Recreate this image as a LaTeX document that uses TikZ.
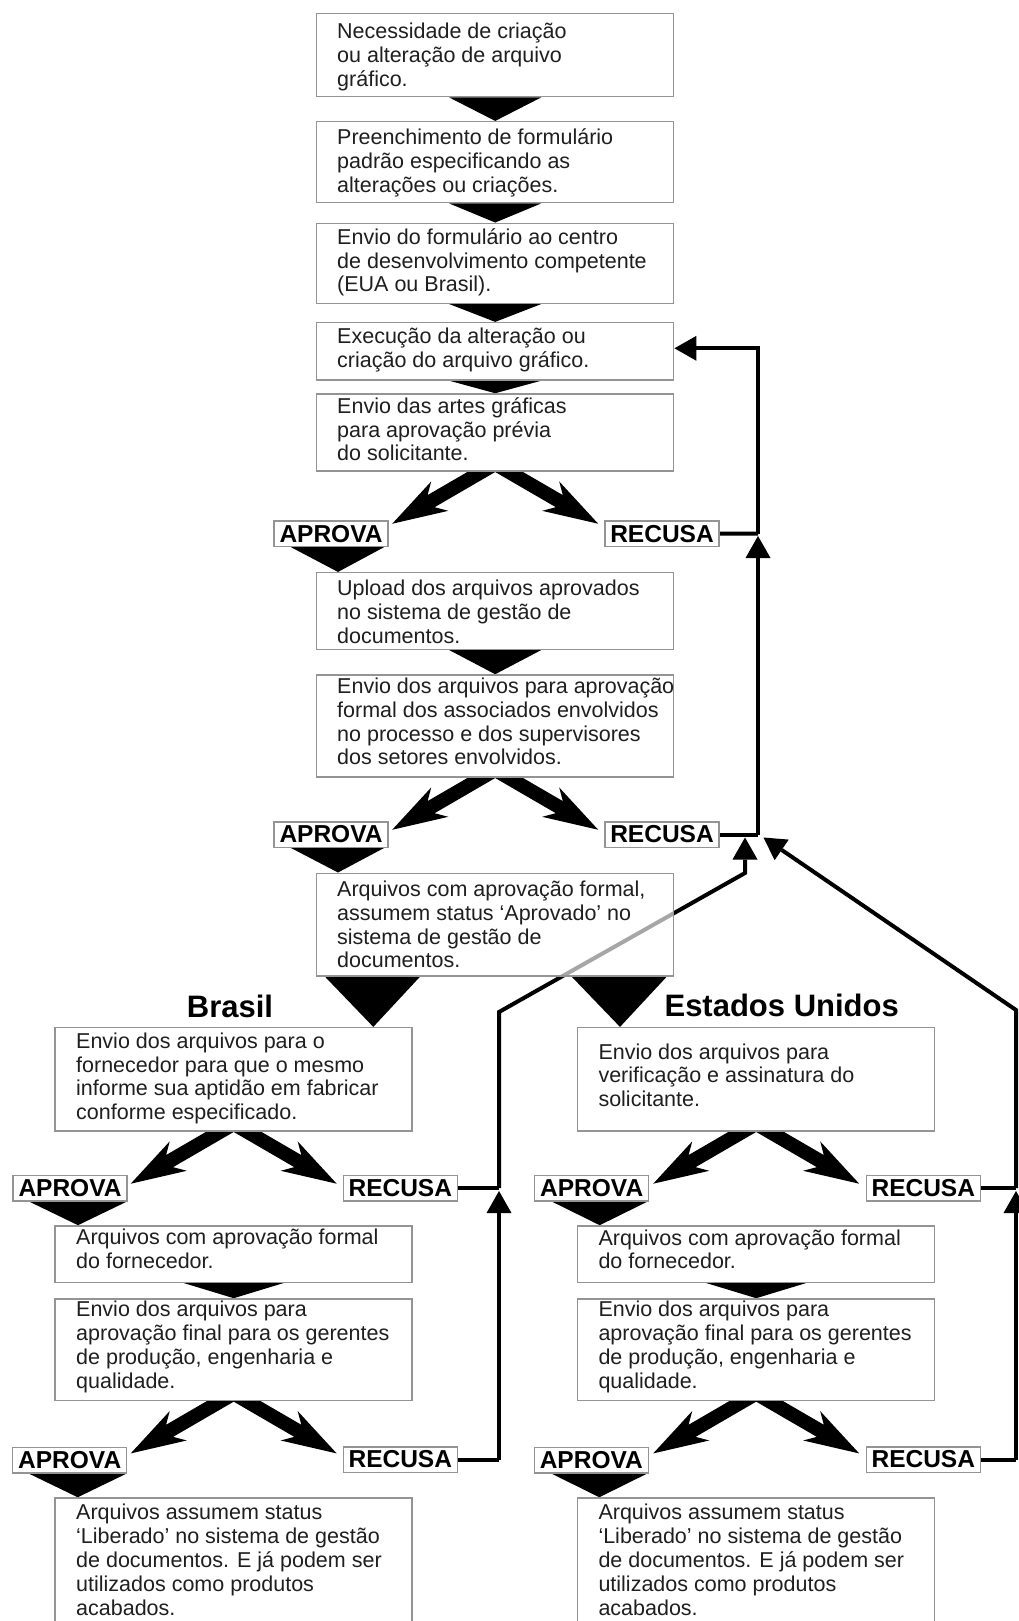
\documentclass[tikz,border=0pt]{standalone}
\usepackage{fontspec}
\setmainfont{Liberation Sans}
\usetikzlibrary{calc,arrows.meta}
\pgfdeclarelayer{back}
\pgfdeclarelayer{bg}
\pgfsetlayers{back,bg,main}

\newcommand{\blockarr}[2]{%
  \coordinate (ba) at ($(#1)!-25pt!(#2)$);
  \coordinate (bi) at ($(#2)!45pt!(#1)$);
  \coordinate (bh) at ($(#2)!55pt!(#1)$);
  \fill[black] ($(ba)!7pt!90:(#2)$) -- ($(bi)!7pt!-90:(#1)$) -- ($(bh)!17pt!-90:(#1)$) -- (#2)
    -- ($(bh)!17pt!90:(#1)$) -- ($(bi)!7pt!90:(#1)$) -- ($(ba)!7pt!-90:(#2)$) -- cycle;}
\newcommand{\splitpair}[1]{%
  \coordinate (sl) at ($(#1.south)+(-13.5,0)$);
  \coordinate (tl) at ($(#1.south)+(-103,52)$);
  \coordinate (sr) at ($(#1.south)+(13.5,0)$);
  \coordinate (tr) at ($(#1.south)+(103,52)$);
  \blockarr{sl}{tl}\blockarr{sr}{tr}}

\begin{document}
\begin{tikzpicture}[x=1pt,y=-1pt,
  box/.style={draw=black!42, line width=1.5pt, fill=white, minimum width=357pt, inner sep=0pt},
  txt/.style={anchor=west, align=left, inner sep=0pt, text=black!88,
    font=\fontsize{21.5}{23.8}\selectfont,
    execute at begin node={\rule{0pt}{17pt}}, execute at end node={\rule[-5pt]{0pt}{5pt}}},
  lbl/.style={draw=black!42, line width=1.5pt, fill=white, minimum width=114pt, minimum height=25.5pt,
    inner sep=0pt, font=\fontsize{24.5}{24.5}\bfseries},
  ttl/.style={inner sep=0pt, font=\fontsize{31}{31}\bfseries},
  conn/.style={line width=4pt, black},
  arr/.style={-{Triangle[length=22pt 0 0, width=25pt 0 0, line width=0pt 0 0]}}
]
\useasboundingbox (0,0) rectangle (1018,1621);

% main column boxes
\node[box, minimum height=83.4pt] (b1) at (495.2,55) {};
\node[box, minimum height=81pt] (b2) at (495.2,162.2) {};
\node[box, minimum height=80pt] (b3) at (495.2,263.3) {};
\node[box, minimum height=57.3pt] (b4) at (495.2,351.3) {};
\node[box, minimum height=77pt] (b5) at (495.2,432.5) {};
\node[box, minimum height=76.6pt] (b6) at (495.2,611) {};
\node[box, minimum height=102pt] (b7) at (495.2,726) {};
\node[box, minimum height=102.7pt, fill opacity=0.65] (b8) at (495.2,924.6) {};
% Brasil column
\node[box, minimum height=103.3pt] (br1) at (233.7,1079.3) {};
\node[box, minimum height=56.3pt] (br2) at (233.7,1254.1) {};
\node[box, minimum height=101.7pt] (br3) at (233.7,1349.8) {};
\node[box, minimum height=128pt] (br4) at (233.7,1562) {};
% EUA column
\node[box, minimum height=103.3pt] (us1) at (756.2,1079.3) {};
\node[box, minimum height=56.3pt] (us2) at (756.2,1254.1) {};
\node[box, minimum height=101.7pt] (us3) at (756.2,1349.8) {};
\node[box, minimum height=128pt] (us4) at (756.2,1562) {};

% texts
\node[txt] (t1) at (337,57.4) {Necessidade de criação\\ou alteração de arquivo\\gráfico.};
\node[txt] (t2) at (337,163) {Preenchimento de formulário\\padrão especificando as\\alterações ou criações.};
\node[txt] (t3) at (337,262.7) {Envio do formulário ao centro\\de desenvolvimento competente\\(EUA ou Brasil).};
\node[txt] (t4) at (337,350) {Execução da alteração ou\\criação do arquivo gráfico.};
\node[txt] (t5) at (337,431.7) {Envio das artes gráficas\\para aprovação prévia\\do solicitante.};
\node[txt] (t6) at (337,614.2) {Upload dos arquivos aprovados\\no sistema de gestão de\\documentos.};
\node[txt] (t7) at (337,724) {Envio dos arquivos para aprovação\\formal dos associados envolvidos\\no processo e dos supervisores\\dos setores envolvidos.};
\node[txt] (t8) at (337,926.9) {Arquivos com aprovação formal,\\assumem status ‘Aprovado’ no\\sistema de gestão de\\documentos.};
\node[txt] (tb1) at (76,1078.7) {Envio dos arquivos para o\\fornecedor para que o mesmo\\informe sua aptidão em fabricar\\conforme especificado.};
\node[txt] (tb2) at (76,1251.5) {Arquivos com aprovação formal\\do fornecedor.};
\node[txt] (tb3) at (76,1347) {Envio dos arquivos para\\aprovação final para os gerentes\\de produção, engenharia e\\qualidade.};
\node[txt] (tb4) at (76,1562.2) {Arquivos assumem status\\‘Liberado’ no sistema de gestão\\de documentos. E já podem ser\\utilizados como produtos\\acabados.};
\node[txt] (tu1) at (598.3,1077.5) {Envio dos arquivos para\\verificação e assinatura do\\solicitante.};
\node[txt] (tu2) at (598.3,1251.7) {Arquivos com aprovação formal\\do fornecedor.};
\node[txt] (tu3) at (598.3,1347) {Envio dos arquivos para\\aprovação final para os gerentes\\de produção, engenharia e\\qualidade.};
\node[txt] (tu4) at (598.3,1562.2) {Arquivos assumem status\\‘Liberado’ no sistema de gestão\\de documentos. E já podem ser\\utilizados como produtos\\acabados.};

% titles
\node[ttl] (brasil) at (230,1006.5) {Brasil};
\node[ttl] (eua) at (781.7,1005) {Estados Unidos};

% labels
\node[lbl] (apr1) at (331,533.7) {APROVA};
\node[lbl] (rec1) at (662,533.7) {RECUSA};
\node[lbl] (apr2) at (331,834.5) {APROVA};
\node[lbl] (rec2) at (662,834.5) {RECUSA};
\node[lbl] (apr3) at (70,1188) {APROVA};
\node[lbl] (rec3) at (400.3,1188) {RECUSA};
\node[lbl] (apr4) at (591.7,1188) {APROVA};
\node[lbl] (rec4) at (923.3,1188) {RECUSA};
\node[lbl] (apr5) at (69.7,1460) {APROVA};
\node[lbl] (rec5) at (400.3,1459.5) {RECUSA};
\node[lbl] (apr6) at (591.3,1460) {APROVA};
\node[lbl] (rec6) at (923.3,1459.5) {RECUSA};

\begin{pgfonlayer}{back}
  \fill[white] (0,0) rectangle (1018,1621);
\end{pgfonlayer}

\begin{pgfonlayer}{bg}
  % triangles between boxes (main column)
  \fill[black] ([xshift=-46pt]b1.south) -- ([xshift=46pt]b1.south) -- (b2.north) -- cycle;
  \fill[black] ([xshift=-46pt]b2.south) -- ([xshift=46pt]b2.south) -- (b3.north) -- cycle;
  \fill[black] ([xshift=-46pt]b3.south) -- ([xshift=46pt]b3.south) -- (b4.north) -- cycle;
  \fill[black] ([xshift=-46pt]b4.south) -- ([xshift=46pt]b4.south) -- (b5.north) -- cycle;
  \fill[black] ([xshift=-46pt]b6.south) -- ([xshift=46pt]b6.south) -- (b7.north) -- cycle;
  \fill[black] ([xshift=-50pt]br2.south) -- ([xshift=50pt]br2.south) -- (br3.north) -- cycle;
  \fill[black] ([xshift=-50pt]us2.south) -- ([xshift=50pt]us2.south) -- (us3.north) -- cycle;
  % triangles below APROVA labels
  \fill[black] ([xshift=-40pt]apr1.south) -- ([xshift=53pt]apr1.south) -- ($(b6.north -| apr1.south)+(7,0)$) -- cycle;
  \fill[black] ([xshift=-40pt]apr2.south) -- ([xshift=53pt]apr2.south) -- ($(b8.north -| apr2.south)+(7,0)$) -- cycle;
  \fill[black] ([xshift=-41pt]apr3.south) -- ([xshift=57pt]apr3.south) -- ($(br2.north -| apr3.south)+(8,0)$) -- cycle;
  \fill[black] ([xshift=-41pt]apr5.south) -- ([xshift=57pt]apr5.south) -- ($(br4.north -| apr5.south)+(8,0)$) -- cycle;
  \fill[black] ([xshift=-40pt]apr4.south) -- ([xshift=56pt]apr4.south) -- ($(us2.north -| apr4.south)+(8,0)$) -- cycle;
  \fill[black] ([xshift=-40pt]apr6.south) -- ([xshift=56pt]apr6.south) -- ($(us4.north -| apr6.south)+(8,0)$) -- cycle;
  % triangles below box 8
  \fill[black] ([xshift=-170.2pt]b8.south) -- ([xshift=-75.2pt]b8.south) -- ([xshift=139.6pt]br1.north) -- cycle;
  \fill[black] ([xshift=76.5pt]b8.south) -- ([xshift=171.5pt]b8.south) -- ([xshift=-136.2pt]us1.north) -- cycle;

  % split arrows
  \splitpair{b5}
  \splitpair{b7}
  \splitpair{br1}
  \splitpair{br3}
  \splitpair{us1}
  \splitpair{us3}

  % feedback connectors
  \coordinate (j0) at (758,348.3);
  \coordinate (j1) at (758,533.5);
  \coordinate (j2) at (758,834.5);
  \coordinate (j3) at (499,1188);
  \coordinate (j4) at (499,1459.5);
  \coordinate (k1) at (499,1012);
  \coordinate (k2) at (745,873);
  \coordinate (k2t) at (745,837.5);
  \coordinate (j5) at (1016,1188);
  \coordinate (j6) at (1016,1459.5);
  \coordinate (k3) at (1016,1010);
  \coordinate (k3t) at (763.5,837.5);

  \draw[conn] (rec1.east) -- (j1);
  \draw[conn] (rec2.east) -- (j2);
  \draw[conn,arr] (j2) -- ($(j1)+(0,2.5)$);
  \draw[conn,arr] (j1) -- (j0) -- ([yshift=3pt]b4.east);

  \draw[conn] (rec3.east) -- (j3);
  \draw[conn] (rec5.east) -- (j4);
  \draw[conn,arr] (j4) -- ($(j3)+(0,3)$);
  \draw[conn,arr] (j3) -- (k1) -- (k2) -- (k2t);

  \draw[conn] (rec4.east) -- (j5);
  \draw[conn] (rec6.east) -- (j6);
  \draw[conn,arr] (j6) -- ($(j5)+(0,3)$);
  \draw[conn,arr] (j5) -- (k3) -- (k3t);
\end{pgfonlayer}
\end{tikzpicture}
\end{document}
